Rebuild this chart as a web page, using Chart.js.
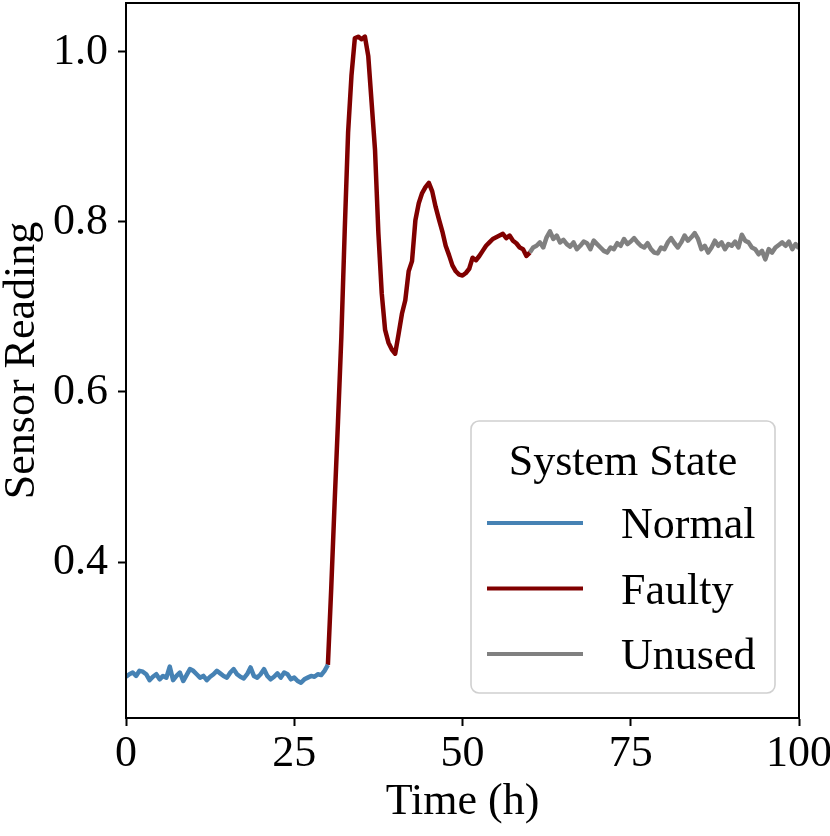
<!DOCTYPE html>
<html>
<head>
<meta charset="utf-8">
<script src="https://cdn.jsdelivr.net/npm/chart.js@4.4.1/dist/chart.umd.min.js"></script>
<style>
  body { margin: 0; background: #fff; }
  canvas { display: block; }
</style>
</head>
<body>
<canvas id="SensorChart" width="830" height="836"></canvas>
<script>
// --- dados ---
const step = 0.5; // amostragem (h)

const normalStart = 0;
const normalY = [
  0.265, 0.268, 0.270, 0.266, 0.272, 0.271, 0.268, 0.261, 0.265, 0.268,
  0.262, 0.266, 0.264, 0.277, 0.261, 0.266, 0.270, 0.260, 0.267, 0.274,
  0.272, 0.268, 0.264, 0.266, 0.261, 0.265, 0.268, 0.272, 0.269, 0.266,
  0.264, 0.270, 0.274, 0.268, 0.265, 0.263, 0.268, 0.276, 0.266, 0.264,
  0.268, 0.274, 0.266, 0.262, 0.265, 0.269, 0.264, 0.270, 0.268, 0.262,
  0.264, 0.260, 0.258, 0.262, 0.264, 0.266, 0.265, 0.268, 0.267, 0.272,
  0.279
];

const faultyStart = 30;
const faultyY = [
  0.279, 0.370, 0.470, 0.565, 0.665, 0.790, 0.905, 0.972, 1.016, 1.018,
  1.015, 1.018, 0.995, 0.940, 0.885, 0.787, 0.716, 0.673, 0.658, 0.650,
  0.645, 0.668, 0.692, 0.708, 0.742, 0.754, 0.802, 0.822, 0.834, 0.841,
  0.846, 0.836, 0.818, 0.803, 0.789, 0.772, 0.761, 0.749, 0.742, 0.738,
  0.737, 0.740, 0.745, 0.758, 0.755, 0.760, 0.766, 0.772, 0.776, 0.780,
  0.782, 0.784, 0.786, 0.781, 0.784, 0.778, 0.775, 0.770, 0.768, 0.760,
  0.764
];

const unusedStart = 60;
const unusedY = [
  0.764, 0.770, 0.772, 0.776, 0.770, 0.782, 0.789, 0.780, 0.784, 0.776,
  0.779, 0.774, 0.771, 0.776, 0.768, 0.772, 0.777, 0.775, 0.768, 0.778,
  0.774, 0.770, 0.766, 0.764, 0.770, 0.768, 0.775, 0.772, 0.780, 0.774,
  0.777, 0.781, 0.776, 0.772, 0.770, 0.775, 0.768, 0.764, 0.763, 0.770,
  0.768, 0.776, 0.781, 0.775, 0.770, 0.776, 0.784, 0.778, 0.782, 0.787,
  0.780, 0.768, 0.772, 0.764, 0.770, 0.778, 0.772, 0.776, 0.768, 0.774,
  0.772, 0.777, 0.770, 0.785, 0.778, 0.776, 0.770, 0.768, 0.762, 0.766,
  0.756, 0.768, 0.764, 0.770, 0.773, 0.776, 0.772, 0.777, 0.768, 0.774,
  0.769
];

const xTicks = [0, 25, 50, 75, 100];
const yTicks = [0.4, 0.6, 0.8, 1.0];

const FONT = "'Liberation Serif', 'DejaVu Serif', serif";

function toPoints(start, ys) {
  return ys.map((y, i) => ({ x: start + i * step, y: y }));
}

function serie(label, start, ys, color) {
  return {
    label: label,
    data: toPoints(start, ys),
    borderColor: color,
    backgroundColor: color,
    borderWidth: 4.5,
    borderJoinStyle: 'round',
    pointRadius: 0,
    tension: 0,
    fill: false
  };
}

// moldura + legenda desenhadas à mão (estilo matplotlib)
const framePlugin = {
  id: 'frame',
  afterDraw(chart) {
    const ctx = chart.ctx;
    const a = chart.chartArea;
    ctx.save();
    ctx.strokeStyle = '#000';
    ctx.lineWidth = 2;
    ctx.strokeRect(a.left, a.top, a.right - a.left, a.bottom - a.top);

    // legenda
    const w = 304, h = 272;
    const x0 = a.right - 24 - w, y0 = a.bottom - 25 - h;
    ctx.beginPath();
    ctx.roundRect(x0, y0, w, h, 8);
    ctx.fillStyle = 'rgba(255,255,255,0.85)';
    ctx.fill();
    ctx.strokeStyle = '#d0d0d0';
    ctx.lineWidth = 1.6;
    ctx.stroke();

    ctx.fillStyle = '#000';
    ctx.font = '44px ' + FONT;
    ctx.textAlign = 'center';
    ctx.textBaseline = 'alphabetic';
    ctx.fillText('System State', x0 + w / 2, y0 + 54);

    ctx.textAlign = 'left';
    chart.data.datasets.forEach((ds, i) => {
      const ly = y0 + 102 + i * 65.5;
      ctx.beginPath();
      ctx.moveTo(x0 + 16, ly);
      ctx.lineTo(x0 + 112, ly);
      ctx.strokeStyle = ds.borderColor;
      ctx.lineWidth = 4;
      ctx.stroke();
      ctx.fillText(ds.label, x0 + 150, ly + 15);
    });
    ctx.restore();
  }
};

const ctx = document.getElementById('SensorChart').getContext('2d');

const SensorChart = new Chart(ctx, {
  type: 'line',
  data: {
    datasets: [
      serie('Normal', normalStart, normalY, '#4682b4'),
      serie('Faulty', faultyStart, faultyY, '#800000'),
      serie('Unused', unusedStart, unusedY, '#808080')
    ]
  },
  options: {
    responsive: false,
    animation: false,
    layout: { padding: { top: 3, right: 31, left: 0, bottom: 0 } },
    plugins: {
      legend: { display: false },
      tooltip: { enabled: false }
    },
    scales: {
      x: {
        type: 'linear',
        min: 0,
        max: 100,
        afterBuildTicks: s => { s.ticks = xTicks.map(v => ({ value: v })); },
        afterFit: s => { s.height = 118; s.paddingLeft = 0; s.paddingRight = 0; },
        grid: { drawOnChartArea: false, drawTicks: true, tickLength: 8, tickWidth: 2, tickColor: '#000' },
        border: { display: true, color: '#000', width: 2 },
        ticks: {
          color: '#000',
          font: { family: FONT, size: 44 },
          padding: 2,
          maxRotation: 0,
          autoSkip: false,
          callback: v => String(v)
        },
        title: {
          display: true,
          text: 'Time (h)',
          color: '#000',
          font: { family: FONT, size: 44 },
          padding: { top: 0, bottom: 7 }
        }
      },
      y: {
        type: 'linear',
        min: 0.2165,
        max: 1.0576,
        afterBuildTicks: s => { s.ticks = yTicks.map(v => ({ value: v })); },
        afterFit: s => { s.width = 126; s.paddingTop = 0; s.paddingBottom = 0; },
        grid: { drawOnChartArea: false, drawTicks: true, tickLength: 8, tickWidth: 2, tickColor: '#000' },
        border: { display: true, color: '#000', width: 2 },
        ticks: {
          color: '#000',
          font: { family: FONT, size: 44 },
          padding: 10,
          callback: v => v.toFixed(1)
        },
        title: {
          display: true,
          text: 'Sensor Reading',
          color: '#000',
          font: { family: FONT, size: 44 },
          padding: { top: -4, bottom: 0 }
        }
      }
    }
  },
  plugins: [framePlugin]
});
</script>
</body>
</html>
